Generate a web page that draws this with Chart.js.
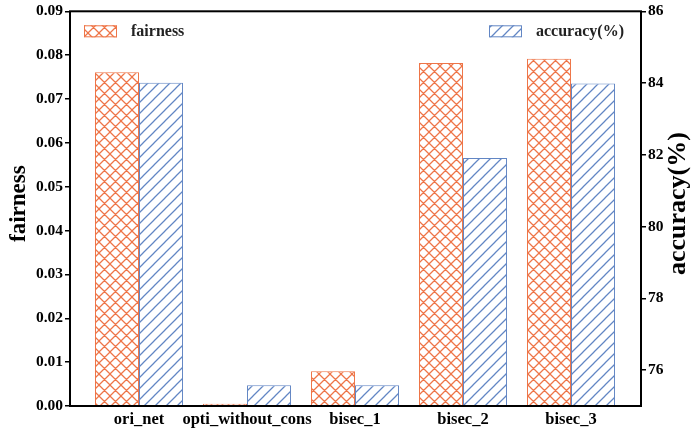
<!DOCTYPE html>
<html>
<head>
<meta charset="utf-8">
<script src="https://cdn.jsdelivr.net/npm/chart.js"></script>
<style>
  html, body { margin: 0; padding: 0; background: #fff; }
  canvas { display: block; }
</style>
</head>
<body>
<canvas id="fairAccChart" width="692" height="434"></canvas>
<script>
const methods = ['ori_net', 'opti_without_cons', 'bisec_1', 'bisec_2', 'bisec_3'];
const fairness = [0.0761, 0.0005, 0.0079, 0.0782, 0.0792];
const accuracy = [84.01, 75.58, 75.58, 81.91, 83.99];
const fairnessTicks = [0, 0.01, 0.02, 0.03, 0.04, 0.05, 0.06, 0.07, 0.08, 0.09];
const accuracyTicks = [76, 78, 80, 82, 84, 86];

const SERIF = '"Liberation Serif", "Times New Roman", serif';
const RED = '#EE7548';
const BLUE = '#6286C4';

// matplotlib-like hatch fills: '/' for accuracy, 'x' for fairness
function hatch(color, cross) {
  const p = 11;
  const c = document.createElement('canvas');
  c.width = p;
  c.height = p;
  const g = c.getContext('2d');
  g.fillStyle = '#fff';
  g.fillRect(0, 0, p, p);
  g.strokeStyle = color;
  g.lineWidth = 1.25;
  g.beginPath();
  for (let k = 0; k <= 2; k++) {
    g.moveTo(-1, k * p + 1);
    g.lineTo(p + 1, k * p - p - 1);
  }
  if (cross) {
    for (let k = -1; k <= 1; k++) {
      g.moveTo(-1, k * p - 1);
      g.lineTo(p + 1, k * p + p + 1);
    }
  }
  g.stroke();
  return g.createPattern(c, 'repeat');
}

const redHatch = hatch(RED, true);
const blueHatch = hatch(BLUE, false);

// frame, axis titles and the two corner legends
const decorations = {
  id: 'decorations',
  afterDraw(chart) {
    const { ctx, chartArea: a } = chart;
    ctx.save();

    ctx.strokeStyle = '#000';
    ctx.lineWidth = 2;
    ctx.strokeRect(a.left, a.top, a.right - a.left, a.bottom - a.top);

    const midY = (a.top + a.bottom) / 2 - 5;
    ctx.fillStyle = '#000';
    ctx.textAlign = 'center';
    ctx.textBaseline = 'alphabetic';

    ctx.save();
    ctx.translate(25, midY);
    ctx.rotate(-Math.PI / 2);
    ctx.font = 'bold 23px ' + SERIF;
    ctx.fillText('fairness', 0, 0);
    ctx.restore();

    ctx.save();
    ctx.translate(685, midY);
    ctx.rotate(-Math.PI / 2);
    ctx.font = 'bold 26px ' + SERIF;
    ctx.fillText('accuracy(%)', 0, 0);
    ctx.restore();

    const items = [
      { ds: chart.data.datasets[0], x: a.left + 14 },
      { ds: chart.data.datasets[1], x: a.right - 152 },
    ];
    ctx.font = 'bold 16px ' + SERIF;
    ctx.textAlign = 'left';
    ctx.textBaseline = 'middle';
    items.forEach(({ ds, x }) => {
      const y = a.top + 14;
      ctx.fillStyle = ds.backgroundColor;
      ctx.fillRect(x, y, 33, 12);
      ctx.strokeStyle = ds.borderColor;
      ctx.lineWidth = 1;
      ctx.strokeRect(x + 0.5, y + 0.5, 32, 11);
      ctx.fillStyle = '#222';
      ctx.fillText(ds.label, x + 47, y + 7);
    });

    ctx.restore();
  },
};

const ctx = document.getElementById('fairAccChart').getContext('2d');

new Chart(ctx, {
  type: 'bar',
  data: {
    datasets: [
      {
        label: 'fairness',
        data: methods.map((m, i) => ({ x: i, y: fairness[i] })),
        yAxisID: 'y',
        backgroundColor: redHatch,
        borderColor: RED,
        borderWidth: 1,
      },
      {
        label: 'accuracy(%)',
        data: methods.map((m, i) => ({ x: i, y: accuracy[i] })),
        yAxisID: 'y1',
        backgroundColor: blueHatch,
        borderColor: BLUE,
        borderWidth: 1,
      },
    ],
  },
  options: {
    responsive: false,
    animation: false,
    layout: { padding: { top: 10, left: 0, right: 0, bottom: 0 } },
    datasets: {
      bar: { categoryPercentage: 0.815, barPercentage: 1 },
    },
    plugins: {
      legend: { display: false },
      tooltip: { enabled: false },
    },
    scales: {
      x: {
        type: 'linear',
        min: -0.639,
        max: 4.648,
        offset: false,
        grid: { display: false },
        border: { display: false },
        afterBuildTicks: (s) => {
          s.ticks = methods.map((m, i) => ({ value: i }));
        },
        afterFit: (s) => {
          s.height = 28;
        },
        ticks: {
          callback: (v) => methods[v],
          font: { family: SERIF, size: 16.5, weight: 'bold' },
          color: '#000',
          padding: -4,
          maxRotation: 0,
          autoSkip: false,
        },
      },
      y: {
        position: 'left',
        min: 0,
        max: 0.09,
        afterBuildTicks: (s) => {
          s.ticks = fairnessTicks.map((v) => ({ value: v }));
        },
        afterFit: (s) => {
          s.width = 70;
        },
        grid: {
          drawOnChartArea: false,
          tickLength: 5,
          color: '#000',
          lineWidth: 1.5,
        },
        border: { display: false },
        ticks: {
          callback: (v) => v.toFixed(2),
          font: { family: SERIF, size: 15.5, weight: 'bold' },
          color: '#000',
          padding: 2,
        },
      },
      y1: {
        position: 'right',
        min: 75,
        max: 86,
        afterBuildTicks: (s) => {
          s.ticks = accuracyTicks.map((v) => ({ value: v }));
        },
        afterFit: (s) => {
          s.width = 51;
        },
        grid: {
          drawOnChartArea: false,
          tickLength: 5,
          color: '#000',
          lineWidth: 1.5,
        },
        border: { display: false },
        ticks: {
          callback: (v) => String(v),
          font: { family: SERIF, size: 15.5, weight: 'bold' },
          color: '#000',
          padding: 2,
        },
      },
    },
  },
  plugins: [decorations],
});
</script>
</body>
</html>
